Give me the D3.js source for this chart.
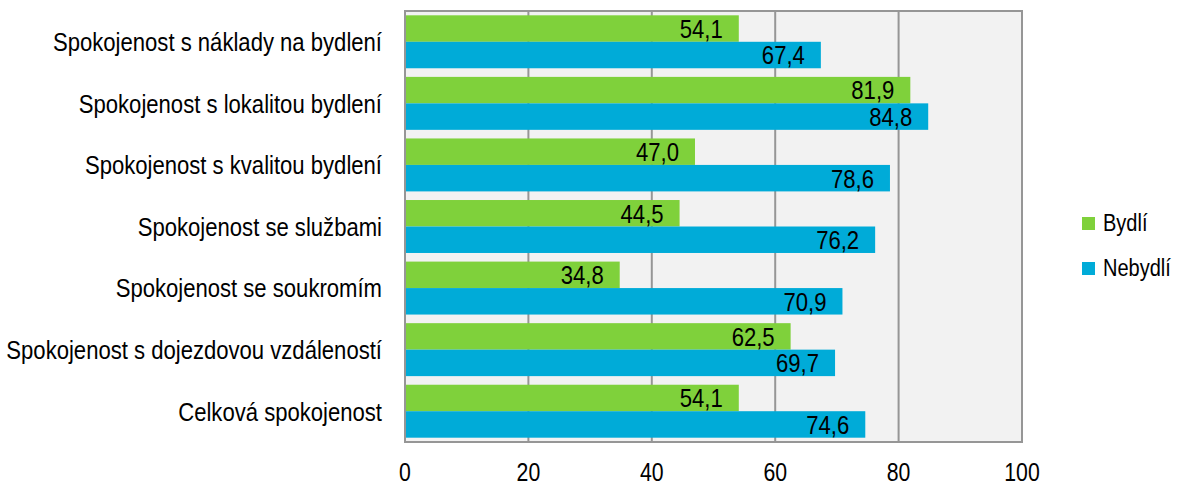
<!DOCTYPE html>
<html>
<head>
<meta charset="utf-8">
<script src="https://cdn.jsdelivr.net/npm/d3@7"></script>
<style>
  body { margin: 0; background: #fff; }
  text { font-family: "Liberation Sans", Arial, sans-serif; }
</style>
</head>
<body>
<script>
// Chart data
var categories = [
    "Spokojenost s náklady na bydlení",
    "Spokojenost s lokalitou bydlení",
    "Spokojenost s kvalitou bydlení",
    "Spokojenost se službami",
    "Spokojenost se soukromím",
    "Spokojenost s dojezdovou vzdáleností",
    "Celková spokojenost"
];
var seriesNames = ["Bydlí", "Nebydlí"];
var bydli = [54.1, 81.9, 47.0, 44.5, 34.8, 62.5, 54.1];
var nebydli = [67.4, 84.8, 78.6, 76.2, 70.9, 69.7, 74.6];
var xTicks = [0, 20, 40, 60, 80, 100];
var colors = ["#7fd13b", "#00abd8"];

var width = 1180, height = 486;
var margin = { top: 11, right: 158, bottom: 44, left: 405 };
var plotW = width - margin.left - margin.right,
    plotH = height - margin.top - margin.bottom;

// the original uses a narrow font, so squeeze the text horizontally
var narrow = 0.85;
function place(x, y) {
    return "translate(" + x + "," + y + ") scale(" + narrow + ",1)";
}

var svg = d3.select("body").append("svg")
    .attr("width", width)
    .attr("height", height);

var g = svg.append("g")
    .attr("transform", "translate(" + margin.left + "," + margin.top + ")");

// Scales
var x = d3.scaleLinear().domain([0, 100]).range([0, plotW]);
var y = d3.scaleBand().domain(categories).range([0, plotH])
    .paddingInner(0.14).paddingOuter(0.07);
var ySub = d3.scaleBand().domain(seriesNames).range([0, y.bandwidth()]);

// Plot background
g.append("rect")
    .attr("width", plotW)
    .attr("height", plotH)
    .attr("fill", "#f2f2f2");

// Gridlines
g.selectAll(".grid")
    .data(xTicks.slice(1, -1))
    .enter().append("line")
    .attr("x1", function (d) { return x(d); })
    .attr("x2", function (d) { return x(d); })
    .attr("y1", 0)
    .attr("y2", plotH)
    .attr("stroke", "#969696")
    .attr("stroke-width", 2);

// Bars
var rows = categories.map(function (c, i) {
    return { cat: c, values: [bydli[i], nebydli[i]] };
});

var group = g.selectAll(".cat")
    .data(rows)
    .enter().append("g")
    .attr("transform", function (d) { return "translate(0," + y(d.cat) + ")"; });

group.selectAll("rect")
    .data(function (d) { return d.values.map(function (v, j) { return { s: seriesNames[j], v: v, j: j }; }); })
    .enter().append("rect")
    .attr("x", 0)
    .attr("y", function (d) { return ySub(d.s); })
    .attr("width", function (d) { return x(d.v); })
    .attr("height", ySub.bandwidth())
    .attr("fill", function (d) { return colors[d.j]; });

group.selectAll(".val")
    .data(function (d) { return d.values.map(function (v, j) { return { s: seriesNames[j], v: v }; }); })
    .enter().append("text")
    .attr("transform", function (d) { return place(x(d.v) - 16, ySub(d.s) + ySub.bandwidth() / 2); })
    .attr("dy", "0.36em")
    .attr("text-anchor", "end")
    .attr("font-size", "26px")
    .attr("fill", "#000")
    .text(function (d) { return d.v.toFixed(1).replace(".", ","); });

// Plot border
g.append("rect")
    .attr("width", plotW)
    .attr("height", plotH)
    .attr("fill", "none")
    .attr("stroke", "#969696")
    .attr("stroke-width", 2);

// Category labels
g.selectAll(".catlabel")
    .data(categories)
    .enter().append("text")
    .attr("transform", function (d) { return place(-23, y(d) + y.bandwidth() / 2); })
    .attr("dy", "0.36em")
    .attr("text-anchor", "end")
    .attr("font-size", "26px")
    .text(function (d) { return d; });

// X axis labels
g.selectAll(".xlabel")
    .data(xTicks)
    .enter().append("text")
    .attr("transform", function (d) { return place(x(d), plotH + 39); })
    .attr("text-anchor", "middle")
    .attr("font-size", "25px")
    .text(function (d) { return d; });

// Legend
var legend = svg.append("g")
    .attr("transform", "translate(1082,210)");

legend.selectAll("rect")
    .data(seriesNames)
    .enter().append("rect")
    .attr("x", 0)
    .attr("y", function (d, i) { return i * 45 + 7; })
    .attr("width", 13)
    .attr("height", 13)
    .attr("fill", function (d, i) { return colors[i]; });

legend.selectAll("text")
    .data(seriesNames)
    .enter().append("text")
    .attr("transform", function (d, i) { return "translate(21," + (i * 45 + 21) + ") scale(0.87,1)"; })
    .attr("font-size", "23px")
    .text(function (d) { return d; });
</script>
</body>
</html>
